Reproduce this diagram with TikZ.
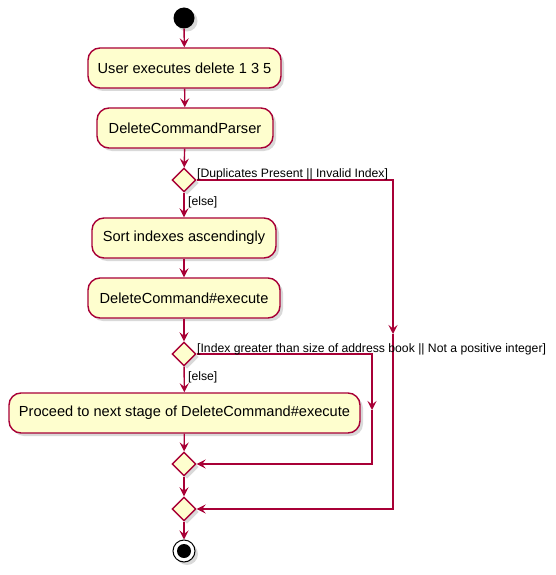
\documentclass[tikz,border=0pt]{standalone}
\usepackage{fontspec}
\setmainfont{Liberation Sans}
\usetikzlibrary{arrows.meta,shadows,shapes.geometric}
\definecolor{pumlred}{HTML}{A80036}
\definecolor{pumlfill}{HTML}{FEFECE}
\tikzset{
  shd/.style={drop shadow={shadow xshift=3pt,shadow yshift=-3pt,opacity=0.25,fill=black!60}},
  act/.style={draw=pumlred,fill=pumlfill,line width=1.4pt,rounded corners=12pt,shd,
    minimum height=40pt,inner xsep=0pt,font=\fontsize{14.6}{17}\selectfont,anchor=center},
  dec/.style={draw=pumlred,fill=pumlfill,line width=1.4pt,shd,minimum width=24pt,minimum height=24pt,
    inner sep=0pt,shape=diamond},
  flow/.style={draw=pumlred,line width=1.4pt,-{Stealth[length=9pt,width=9pt,inset=3.5pt]}},
  guard/.style={font=\fontsize{12.2}{14}\selectfont,inner sep=0pt},
}
\begin{document}
\begin{tikzpicture}[x=1pt,y=-1pt]
\useasboundingbox (0,0) rectangle (555,575);
\node[circle,fill=black,minimum size=21pt,inner sep=0pt,shd] (start) at (184,18) {};
\node[act,minimum width=193pt] (a1) at (184.5,68) {User executes delete 1 3 5};
\node[act,minimum width=176pt] (a2) at (185,128) {DeleteCommandParser};
\node[dec] (d1) at (184,180) {};
\node[act,minimum width=184pt] (a3) at (184,238) {Sort indexes ascendingly};
\node[act,minimum width=192pt] (a4) at (184,298) {DeleteCommand\#execute};
\node[dec] (d2) at (184,354) {};
\node[act,minimum width=351pt] (a5) at (184.5,413) {Proceed to next stage of DeleteCommand\#execute};
\node[dec] (d3) at (184,464) {};
\node[dec] (d4) at (184,509) {};
\node[circle,draw=black,line width=1pt,fill=white,minimum size=22pt,inner sep=0pt,shd] (stop) at (184,551) {};
\node[circle,fill=black,minimum size=14pt,inner sep=0pt] (stopin) at (stop) {};
\coordinate (c1) at (393,334);
\coordinate (c2) at (372,410);

\draw[flow] (start) -- (a1);
\draw[flow] (a1) -- (a2);
\draw[flow] (a2) -- (d1);
\draw[flow] (d1) -- (a3);
\draw[flow] (a3) -- (a4);
\draw[flow] (a4) -- (d2);
\draw[flow] (d2) -- (a5);
\draw[flow] (a5) -- (d3);
\draw[flow] (d3) -- (d4);
\draw[flow] (d4) -- (stop);
\draw[flow] (d1.east) -| (c1);
\draw[flow] (c1) |- (d4.east);
\draw[flow] (d2.east) -| (c2);
\draw[flow] (c2) |- (d3.east);

\node[guard,anchor=base west] (g1) at (197,177) {[Duplicates Present || Invalid Index]};
\node[guard,anchor=base west] (g2) at (188,205) {[else]};
\node[guard,anchor=base west] (g3) at (197,352) {[Index greater than size of address book || Not a positive integer]};
\node[guard,anchor=base west] (g4) at (188,380) {[else]};
\end{tikzpicture}
\end{document}
